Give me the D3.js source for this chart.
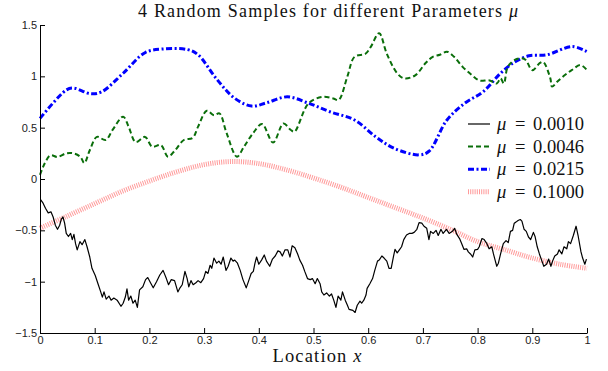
<!DOCTYPE html>
<html>
<head>
<meta charset="utf-8">
<script src="https://cdn.jsdelivr.net/npm/d3@7"></script>
<style>
  body { margin: 0; background: #fff; }
  svg { display: block; }
  .tick text { font-family: "Liberation Sans", Arial, sans-serif; font-size: 11px; fill: #222; }
  .serif { font-family: "Liberation Serif", "DejaVu Serif", serif; fill: #111; }
</style>
</head>
<body>
<div id="chart"></div>
<script>
// sample for mu = 0.0010 (rough), [x, y]
const sample0010 = [
  [0.001,-0.20],[0.005,-0.23],[0.01,-0.285],[0.015,-0.33],[0.02,-0.32],[0.024,-0.37],[0.028,-0.45],
  [0.032,-0.49],[0.036,-0.45],[0.039,-0.39],[0.042,-0.37],[0.045,-0.43],[0.048,-0.53],[0.052,-0.56],
  [0.056,-0.53],[0.059,-0.59],[0.062,-0.54],[0.065,-0.63],[0.068,-0.69],[0.073,-0.61],[0.077,-0.64],
  [0.082,-0.59],[0.086,-0.66],[0.091,-0.76],[0.095,-0.87],[0.101,-0.94],[0.106,-1.02],[0.111,-1.10],
  [0.114,-1.15],[0.117,-1.10],[0.121,-1.17],[0.126,-1.14],[0.13,-1.18],[0.135,-1.16],[0.141,-1.18],
  [0.148,-1.24],[0.152,-1.21],[0.156,-1.15],[0.159,-1.07],[0.162,-1.18],[0.166,-1.14],[0.17,-1.21],
  [0.174,-1.18],[0.178,-1.25],[0.182,-1.08],[0.188,-1.05],[0.193,-0.98],[0.197,-0.96],[0.202,-1.01],
  [0.207,-1.06],[0.213,-1.0],[0.219,-0.935],[0.225,-0.89],[0.231,-0.97],[0.235,-1.03],[0.24,-0.98],
  [0.246,-0.99],[0.252,-1.10],[0.256,-1.06],[0.26,-1.03],[0.265,-0.90],[0.269,-0.97],[0.272,-1.05],
  [0.276,-0.99],[0.28,-1.03],[0.285,-1.01],[0.289,-0.99],[0.294,-1.01],[0.299,-0.97],[0.303,-0.90],
  [0.307,-0.92],[0.311,-0.84],[0.314,-0.87],[0.318,-0.77],[0.323,-0.82],[0.327,-0.80],[0.331,-0.83],
  [0.335,-0.76],[0.34,-0.89],[0.344,-0.85],[0.349,-0.77],[0.353,-0.80],[0.356,-0.79],[0.361,-0.82],
  [0.366,-0.89],[0.371,-0.98],[0.377,-1.06],[0.381,-1.0],[0.386,-0.92],[0.39,-0.90],[0.393,-0.82],
  [0.396,-0.76],[0.4,-0.83],[0.405,-0.79],[0.41,-0.74],[0.414,-0.80],[0.42,-0.85],[0.425,-0.78],
  [0.43,-0.75],[0.435,-0.70],[0.439,-0.71],[0.443,-0.75],[0.448,-0.69],[0.453,-0.69],[0.457,-0.76],
  [0.461,-0.65],[0.466,-0.67],[0.471,-0.73],[0.475,-0.79],[0.48,-0.84],[0.484,-0.90],[0.489,-0.97],
  [0.494,-0.98],[0.498,-0.97],[0.503,-1.02],[0.507,-0.97],[0.512,-1.02],[0.515,-1.10],[0.519,-1.13],
  [0.524,-1.11],[0.529,-1.14],[0.533,-1.12],[0.537,-1.18],[0.541,-1.25],[0.545,-1.14],[0.55,-1.18],
  [0.553,-1.10],[0.558,-1.18],[0.562,-1.23],[0.565,-1.27],[0.572,-1.28],[0.576,-1.30],[0.58,-1.23],
  [0.585,-1.19],[0.588,-1.21],[0.592,-1.18],[0.596,-1.13],[0.598,-1.065],[0.603,-1.02],[0.608,-0.97],
  [0.612,-0.89],[0.617,-0.80],[0.62,-0.79],[0.625,-0.75],[0.629,-0.77],[0.634,-0.80],[0.638,-0.87],
  [0.642,-0.87],[0.646,-0.76],[0.649,-0.685],[0.653,-0.72],[0.657,-0.69],[0.661,-0.66],[0.665,-0.59],
  [0.67,-0.545],[0.675,-0.53],[0.68,-0.53],[0.684,-0.52],[0.689,-0.49],[0.693,-0.425],[0.698,-0.43],
  [0.702,-0.46],[0.707,-0.48],[0.711,-0.59],[0.714,-0.51],[0.719,-0.53],[0.724,-0.50],[0.728,-0.55],
  [0.733,-0.49],[0.737,-0.53],[0.743,-0.49],[0.748,-0.53],[0.754,-0.51],[0.758,-0.48],[0.762,-0.54],
  [0.767,-0.58],[0.771,-0.63],[0.775,-0.685],[0.78,-0.68],[0.783,-0.71],[0.787,-0.73],[0.791,-0.76],
  [0.795,-0.69],[0.8,-0.685],[0.803,-0.66],[0.808,-0.58],[0.812,-0.59],[0.817,-0.63],[0.821,-0.68],
  [0.826,-0.66],[0.829,-0.73],[0.832,-0.79],[0.835,-0.85],[0.838,-0.82],[0.842,-0.73],[0.847,-0.63],
  [0.852,-0.60],[0.856,-0.62],[0.86,-0.51],[0.864,-0.50],[0.867,-0.43],[0.87,-0.42],[0.874,-0.405],
  [0.878,-0.395],[0.881,-0.41],[0.885,-0.49],[0.889,-0.51],[0.893,-0.565],[0.897,-0.59],[0.902,-0.52],
  [0.905,-0.56],[0.909,-0.66],[0.913,-0.73],[0.917,-0.79],[0.921,-0.85],[0.926,-0.83],[0.93,-0.78],
  [0.934,-0.85],[0.937,-0.80],[0.941,-0.75],[0.946,-0.73],[0.949,-0.69],[0.954,-0.73],[0.958,-0.66],
  [0.963,-0.68],[0.966,-0.61],[0.97,-0.63],[0.975,-0.55],[0.98,-0.46],[0.984,-0.56],[0.989,-0.71],
  [0.992,-0.77],[0.996,-0.83],[0.999,-0.78]
];

// mu = 0.0046
const sample0046 = [
  [0,0.04],[0.009,0.155],[0.019,0.23],[0.032,0.215],[0.048,0.25],[0.061,0.25],[0.074,0.215],
  [0.081,0.155],[0.091,0.28],[0.104,0.41],[0.12,0.38],[0.133,0.48],[0.152,0.607],[0.162,0.51],
  [0.175,0.36],[0.192,0.41],[0.205,0.315],[0.221,0.33],[0.234,0.217],[0.247,0.28],[0.263,0.38],
  [0.279,0.40],[0.289,0.51],[0.305,0.665],[0.318,0.62],[0.328,0.64],[0.341,0.45],[0.36,0.217],
  [0.373,0.315],[0.39,0.45],[0.406,0.535],[0.426,0.355],[0.445,0.54],[0.458,0.48],[0.465,0.46],
  [0.491,0.737],[0.517,0.80],[0.536,0.785],[0.546,0.77],[0.562,1.0],[0.575,1.19],[0.595,1.22],
  [0.605,1.29],[0.62,1.42],[0.634,1.22],[0.653,1.03],[0.666,0.98],[0.686,1.01],[0.705,1.13],
  [0.718,1.19],[0.731,1.21],[0.744,1.24],[0.757,1.19],[0.773,1.09],[0.79,1.01],[0.803,0.96],
  [0.822,0.96],[0.835,0.93],[0.842,0.98],[0.848,0.93],[0.855,1.09],[0.868,1.16],[0.881,1.175],
  [0.888,1.16],[0.9,1.06],[0.914,1.13],[0.92,1.14],[0.933,0.98],[0.936,0.90],[0.946,0.95],
  [0.959,1.01],[0.972,1.06],[0.988,1.11],[1.0,1.06]
];

// mu = 0.0215
const sample0215 = [
  [0,0.59],[0.048,0.867],[0.061,0.886],[0.093,0.83],[0.113,0.85],[0.152,1.03],[0.192,1.23],
  [0.224,1.266],[0.27,1.26],[0.289,1.21],[0.322,0.98],[0.355,0.79],[0.387,0.71],[0.413,0.74],
  [0.452,0.80],[0.49,0.74],[0.53,0.655],[0.575,0.575],[0.614,0.41],[0.647,0.30],[0.692,0.235],
  [0.711,0.27],[0.744,0.575],[0.777,0.74],[0.81,0.85],[0.842,1.03],[0.868,1.14],[0.894,1.20],
  [0.927,1.21],[0.973,1.29],[1.0,1.24]
];

// mu = 0.1000
const sample1000 = [
  [0,-0.48],[0.05,-0.36],[0.1,-0.24],[0.15,-0.12],[0.2,-0.02],[0.25,0.07],[0.3,0.14],[0.35,0.17],
  [0.4,0.15],[0.45,0.09],[0.5,0.01],[0.55,-0.08],[0.6,-0.18],[0.65,-0.28],[0.7,-0.38],[0.75,-0.49],
  [0.8,-0.61],[0.85,-0.69],[0.9,-0.77],[0.95,-0.83],[1.0,-0.87]
];

const legendLabels = ['0.0010', '0.0046', '0.0215', '0.1000'];
const xTicks = [0, 0.1, 0.2, 0.3, 0.4, 0.5, 0.6, 0.7, 0.8, 0.9, 1];
const yTicks = [-1.5, -1, -0.5, 0, 0.5, 1, 1.5];

const W = 608, H = 371;
const margin = {top: 25, right: 21, bottom: 38, left: 40};
const width = W - margin.left - margin.right;
const height = H - margin.top - margin.bottom;

const svg = d3.select('#chart').append('svg')
  .attr('width', W).attr('height', H);

const g = svg.append('g')
  .attr('transform', 'translate(' + margin.left + ',' + margin.top + ')');

const x = d3.scaleLinear().domain([0, 1]).range([0, width]);
const y = d3.scaleLinear().domain([-1.5, 1.5]).range([height, 0]);

const styles = [
  {data: sample0010, color: '#000', w: 1.2, dash: null, curve: d3.curveLinear},
  {data: sample0046, color: '#0a6e0a', w: 2, dash: '5,3', curve: d3.curveCatmullRom},
  {data: sample0215, color: '#0000ff', w: 3, dash: '6,2.5,2,2.5', curve: d3.curveCatmullRom},
  {data: sample1000, color: '#ff9a9a', w: 5, dash: '1,1.2', curve: d3.curveCatmullRom}
];

const line = d3.line().x(d => x(d[0])).y(d => y(d[1]));

// draw pink first so it sits behind the others
[3, 2, 1, 0].forEach(i => {
  const s = styles[i];
  g.append('path')
    .datum(s.data)
    .attr('fill', 'none')
    .attr('stroke', s.color)
    .attr('stroke-width', s.w)
    .attr('stroke-dasharray', s.dash)
    .attr('stroke-linejoin', 'round')
    .attr('d', line.curve(s.curve));
});

// axes, ticks point inwards
const fmt = d3.format('~g');
g.append('g')
  .attr('transform', 'translate(0,' + height + ')')
  .call(d3.axisBottom(x).tickValues(xTicks).tickFormat(fmt).tickSizeInner(-5).tickSizeOuter(0).tickPadding(3));
g.append('g')
  .call(d3.axisLeft(y).tickValues(yTicks).tickFormat(fmt).tickSizeInner(-5).tickSizeOuter(0).tickPadding(3));

g.selectAll('.domain, .tick line').attr('stroke', '#000');

// title
svg.append('text')
  .attr('class', 'serif')
  .attr('x', 328).attr('y', 17)
  .attr('text-anchor', 'middle')
  .attr('font-size', 18)
  .attr('textLength', 380)
  .attr('lengthAdjust', 'spacing')
  .html('4 Random Samples for different Parameters <tspan font-style="italic">μ</tspan>');

// x label
svg.append('text')
  .attr('class', 'serif')
  .attr('x', 317).attr('y', 362)
  .attr('text-anchor', 'middle')
  .attr('font-size', 18.5)
  .attr('textLength', 89)
  .attr('lengthAdjust', 'spacing')
  .html('Location <tspan font-style="italic">x</tspan>');

// legend
const leg = svg.append('g');
legendLabels.forEach((lab, i) => {
  const cy = 124 + i * 22.6;
  const s = styles[i];
  leg.append('line')
    .attr('x1', 468).attr('x2', 490)
    .attr('y1', cy).attr('y2', cy)
    .attr('stroke', s.color)
    .attr('stroke-width', s.w)
    .attr('stroke-dasharray', s.dash);
  const t = leg.append('text')
    .attr('class', 'serif')
    .attr('y', cy + 6)
    .attr('font-size', 18.5);
  t.append('tspan').attr('x', 497).attr('font-style', 'italic').text('μ');
  t.append('tspan').attr('x', 515).text('=');
  t.append('tspan').attr('x', 533).text(lab);
});
</script>
</body>
</html>
